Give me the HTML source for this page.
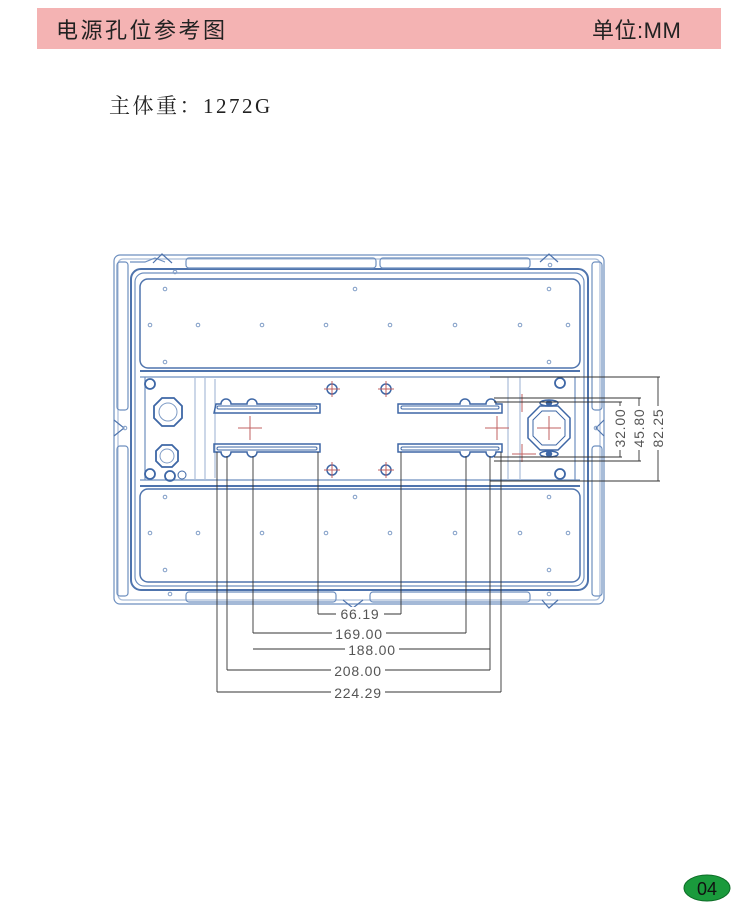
<!DOCTYPE html>
<html><head><meta charset="utf-8"><style>
html,body{margin:0;padding:0;background:#fff;}
body{width:750px;height:916px;position:relative;overflow:hidden;font-family:"Liberation Sans","Noto Sans CJK SC",sans-serif;}
.hdr{position:absolute;left:37px;top:8px;width:684px;height:41px;background:#f4b3b3;}
.t1{position:absolute;left:56px;top:13px;font-size:22px;letter-spacing:2.5px;color:#222;}
.t2{position:absolute;left:592px;top:13px;font-size:22px;letter-spacing:0.5px;color:#222;}
.w{position:absolute;left:109px;top:90px;font-size:21px;letter-spacing:2.5px;color:#222;font-family:"Liberation Serif","Noto Serif CJK SC",serif;}
</style></head><body>
<div class="hdr"></div>
<div class="t1">电源孔位参考图</div>
<div class="t2">单位:MM</div>
<div class="w">主体重：1272G</div>
<svg width="750" height="916" style="position:absolute;left:0;top:0" xmlns="http://www.w3.org/2000/svg">
<g fill="none" stroke="#6d8fbf" stroke-width="1.2">
<rect x="114" y="255" width="490" height="349" rx="6"/>
<rect x="118" y="259" width="482" height="341" rx="5" stroke="#a9bcd8"/>
<rect x="131" y="269" width="457" height="321" rx="10" stroke="#4f74ad" stroke-width="2"/>
<rect x="135" y="273" width="449" height="313" rx="9"/>
<rect x="140" y="279" width="440" height="89" rx="8" stroke="#4f74ad" stroke-width="1.5"/>
<rect x="140" y="489" width="440" height="93" rx="8" stroke="#4f74ad" stroke-width="1.5"/>
<line x1="140" y1="371" x2="580" y2="371" stroke="#4f74ad" stroke-width="2"/>
<line x1="140" y1="377" x2="580" y2="377"/>
<line x1="140" y1="480" x2="580" y2="480"/>
<line x1="140" y1="486" x2="580" y2="486" stroke="#4f74ad" stroke-width="2"/>
<line x1="145" y1="377" x2="145" y2="480"/>
<line x1="195" y1="377" x2="195" y2="480" stroke="#a9bcd8"/>
<line x1="205" y1="377" x2="205" y2="480" stroke="#a9bcd8"/>
<line x1="215" y1="379" x2="215" y2="478" stroke="#a9bcd8"/>
<line x1="508" y1="377" x2="508" y2="480" stroke="#a9bcd8"/>
<line x1="520" y1="377" x2="520" y2="480" stroke="#a9bcd8"/>
<line x1="575" y1="377" x2="575" y2="480"/>
<path d="M130 262 L145 262 L155 258 L165 262" />
<path d="M153 263 L162 254 L172 263" stroke="#4f74ad"/>
<path d="M343 600 L353 608 L363 600" stroke="#4f74ad"/>
<path d="M540 262 L549 254 L558 262" stroke="#4f74ad"/>
<path d="M542 600 L549 608 L558 600" stroke="#4f74ad"/>
<path d="M114 420 L124 428 L114 436" stroke="#4f74ad"/>
<path d="M604 420 L596 428 L604 436" stroke="#4f74ad"/>
<rect x="186" y="258" width="190" height="10" rx="3"/>
<rect x="380" y="258" width="150" height="10" rx="3"/>
<rect x="186" y="592" width="150" height="10" rx="3"/>
<rect x="370" y="592" width="160" height="10" rx="3"/>
<rect x="117" y="262" width="11" height="148" rx="3"/>
<rect x="117" y="446" width="11" height="150" rx="3"/>
<rect x="592" y="262" width="10" height="148" rx="3"/>
<rect x="592" y="446" width="10" height="150" rx="3"/>
</g>
<g fill="none" stroke="#7f9cc6" stroke-width="1">
<circle cx="165" cy="289" r="1.8"/><circle cx="355" cy="289" r="1.8"/><circle cx="549" cy="289" r="1.8"/>
<circle cx="150" cy="325" r="1.8"/><circle cx="198" cy="325" r="1.8"/><circle cx="262" cy="325" r="1.8"/><circle cx="326" cy="325" r="1.8"/><circle cx="390" cy="325" r="1.8"/><circle cx="455" cy="325" r="1.8"/><circle cx="520" cy="325" r="1.8"/><circle cx="568" cy="325" r="1.8"/>
<circle cx="165" cy="362" r="1.8"/><circle cx="549" cy="362" r="1.8"/>
<circle cx="165" cy="497" r="1.8"/><circle cx="355" cy="497" r="1.8"/><circle cx="549" cy="497" r="1.8"/>
<circle cx="150" cy="533" r="1.8"/><circle cx="198" cy="533" r="1.8"/><circle cx="262" cy="533" r="1.8"/><circle cx="326" cy="533" r="1.8"/><circle cx="390" cy="533" r="1.8"/><circle cx="455" cy="533" r="1.8"/><circle cx="520" cy="533" r="1.8"/><circle cx="568" cy="533" r="1.8"/>
<circle cx="165" cy="570" r="1.8"/><circle cx="549" cy="570" r="1.8"/>
<circle cx="125" cy="428" r="1.8"/><circle cx="596" cy="428" r="1.8"/>
<circle cx="175" cy="272" r="1.8"/><circle cx="550" cy="265" r="1.8"/><circle cx="170" cy="594" r="1.8"/><circle cx="549" cy="594" r="1.8"/>
</g>
<g fill="none" stroke="#3e67a6" stroke-width="1.8">
<polygon points="162,398 174,398 182,406 182,418 174,426 162,426 154,418 154,406"/>
<circle cx="168" cy="412" r="9" stroke-width="1" stroke="#7f9cc6"/>
<polygon points="162,445 172,445 178,451 178,461 172,467 162,467 156,461 156,451"/>
<circle cx="167" cy="456" r="7" stroke-width="1" stroke="#7f9cc6"/>
<circle cx="170" cy="476" r="5"/><circle cx="182" cy="475" r="4" stroke-width="1"/>
<circle cx="150" cy="384" r="5"/><circle cx="150" cy="474" r="5"/>
<circle cx="560" cy="383" r="5"/><circle cx="560" cy="474" r="5"/>
</g>
<g fill="none" stroke="#3e67a6" stroke-width="1.5">
<path d="M216 404 L221 404 A5 5 0 0 1 231 404 L247 404 A5 5 0 0 1 257 404 L320 404 L320 413 L214 413 Z"/>
<rect x="217" y="406" width="100" height="3" rx="1.5" stroke-width="1"/>
<path d="M214 444 L320 444 L320 452 L257 452 A5 5 0 0 1 247 452 L231 452 A5 5 0 0 1 221 452 L214 452 Z"/>
<rect x="217" y="447" width="100" height="3" rx="1.5" stroke-width="1"/>
<path d="M398 404 L460 404 A5 5 0 0 1 470 404 L486 404 A5 5 0 0 1 496 404 L502 404 L502 413 L398 413 Z"/>
<rect x="401" y="406" width="98" height="3" rx="1.5" stroke-width="1"/>
<path d="M398 444 L502 444 L502 452 L496 452 A5 5 0 0 1 486 452 L470 452 A5 5 0 0 1 460 452 L398 452 Z"/>
<rect x="401" y="447" width="98" height="3" rx="1.5" stroke-width="1"/>
<circle cx="332" cy="389" r="5"/><circle cx="386" cy="389" r="5"/><circle cx="332" cy="470" r="5"/><circle cx="386" cy="470" r="5"/>
<polygon points="540,406 558,406 570,418 570,438 558,450 540,450 528,438 528,418"/>
<polygon points="542,411 556,411 565,420 565,436 556,445 542,445 533,436 533,420" stroke-width="1"/>
<ellipse cx="549" cy="403" rx="9" ry="3"/><ellipse cx="549" cy="454" rx="9" ry="3"/>
<circle cx="549" cy="403" r="2.5" fill="#3e67a6"/><circle cx="549" cy="454" r="2.5" fill="#3e67a6"/>
</g>
<g stroke="#c06060" stroke-width="1">
<path d="M324 389h16M332 381v16M378 389h16M386 381v16M324 470h16M332 462v16M378 470h16M386 462v16"/>
<path d="M238 428h24M250 416v24M485 428h24M497 416v24M512 402h24M522 394v18M512 454h24M522 444v18M537 428h24M549 416v24"/>
</g>
<g stroke="#333" stroke-width="0.9" fill="none">
<path d="M318 452V614M401 452V614M318 614H401"/>
<path d="M253 456V633M466 456V633M253 633H466"/>
<path d="M253 649H490M490 456V649"/>
<path d="M227 456V670M227 670H490M490 649V670"/>
<path d="M217 452V692M501 452V692M217 692H501"/>
<path d="M494 402H622M494 457H622M620 402V457"/>
<path d="M494 398H641M494 461H641M639 398V461"/>
<path d="M490 377H660M490 481H660M658 377V481"/>
</g>
<g font-family="Liberation Sans,sans-serif" font-size="14" letter-spacing="0.8" fill="#555" text-anchor="middle">
<rect x="336" y="607" width="48" height="14" fill="#fff"/><text x="360" y="619">66.19</text>
<rect x="332" y="627" width="54" height="14" fill="#fff"/><text x="359" y="639">169.00</text>
<rect x="345" y="643" width="54" height="13" fill="#fff"/><text x="372" y="655">188.00</text>
<rect x="331" y="664" width="54" height="14" fill="#fff"/><text x="358" y="676">208.00</text>
<rect x="331" y="686" width="54" height="14" fill="#fff"/><text x="358" y="698">224.29</text>
<g transform="translate(625,428) rotate(-90)"><rect x="-22" y="-11" width="44" height="14" fill="#fff"/><text x="0" y="0">32.00</text></g>
<g transform="translate(644,428) rotate(-90)"><rect x="-22" y="-11" width="44" height="14" fill="#fff"/><text x="0" y="0">45.80</text></g>
<g transform="translate(663,428) rotate(-90)"><rect x="-22" y="-11" width="44" height="14" fill="#fff"/><text x="0" y="0">82.25</text></g>
</g>
<ellipse cx="707" cy="888" rx="23" ry="13" fill="#1a9a3c" stroke="#0d6d27"/>
<text x="707" y="895" font-family="Liberation Sans,sans-serif" font-size="18" fill="#111" text-anchor="middle">04</text>
</svg>
</body></html>
